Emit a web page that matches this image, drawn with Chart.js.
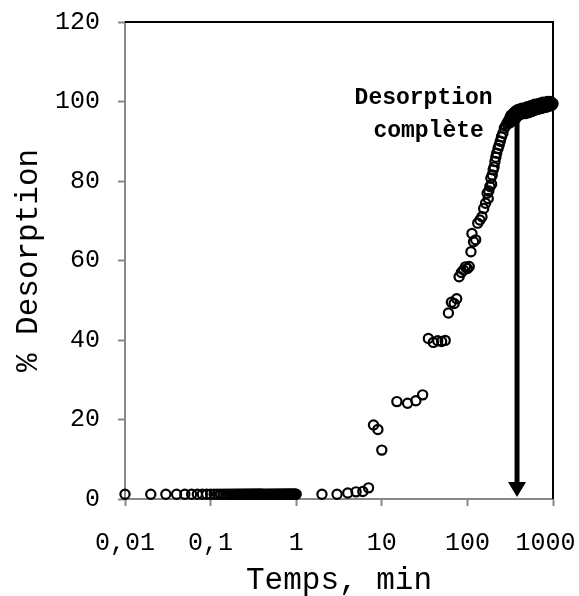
<!DOCTYPE html>
<html>
<head>
<meta charset="utf-8">
<script src="https://cdn.jsdelivr.net/npm/chart.js@4.4.1/dist/chart.umd.min.js"></script>
<style>
  html, body { margin: 0; padding: 0; background: #fff; }
</style>
</head>
<body>
<canvas id="desorptionChart" width="579" height="596"></canvas>
<script>
// Temps (min) et % desorption
let temps = [
  0.01, 0.02, 0.03, 0.04, 0.05, 0.06, 0.07, 0.08, 0.09, 0.10,
  0.11, 0.12, 0.13, 0.14, 0.15, 0.16, 0.17, 0.18, 0.19, 0.20,
  0.21, 0.22, 0.23, 0.24, 0.25, 0.26, 0.27, 0.28, 0.29, 0.30,
  0.31, 0.32, 0.33, 0.34, 0.35, 0.36, 0.37, 0.38, 0.39, 0.40,
  0.42, 0.44, 0.46, 0.48, 0.50, 0.52, 0.54, 0.56, 0.58, 0.60,
  0.62, 0.64, 0.66, 0.68, 0.70, 0.72, 0.74, 0.76, 0.78, 0.80,
  0.82, 0.84, 0.86, 0.88, 0.90, 0.92, 0.94, 0.96, 0.98, 1.00,
  2, 3, 4, 5, 6, 7, 8, 9, 10,
  15, 20, 25, 30,
  35, 40, 45, 50, 55,
  60, 65, 70, 75,
  80, 85, 90, 95, 100, 105,
  110, 113, 118, 125, 132, 140, 148, 155, 163, 170,
  175, 178, 183, 188, 192, 195, 200, 205, 210, 215, 220, 228, 235, 242,
  250, 260, 270, 280, 290, 300, 305, 310,
  315, 320, 325, 330, 340, 345, 350, 360, 365, 370,
  380, 385, 390, 400, 410, 420, 430, 440, 450, 460,
  470, 480, 490, 500, 510, 520, 530, 540, 560, 570,
  580, 600, 610, 620, 640, 650, 670, 680, 700, 720,
  730, 750, 760, 780, 800, 820, 830, 850, 860, 880,
  900, 920, 930, 950, 960, 980, 1000
];
let desorption = [
  1.2, 1.2, 1.2, 1.2, 1.2, 1.2, 1.2, 1.2, 1.2, 1.2,
  1.2, 1.2, 1.2, 1.2, 1.2, 1.2, 1.2, 1.2, 1.2, 1.2,
  1.2, 1.2, 1.2, 1.2, 1.2, 1.2, 1.2, 1.2, 1.2, 1.2,
  1.2, 1.2, 1.2, 1.2, 1.2, 1.2, 1.2, 1.2, 1.2, 1.2,
  1.2, 1.2, 1.2, 1.2, 1.2, 1.2, 1.2, 1.2, 1.2, 1.2,
  1.2, 1.2, 1.2, 1.2, 1.2, 1.2, 1.2, 1.2, 1.2, 1.2,
  1.2, 1.2, 1.2, 1.2, 1.2, 1.2, 1.2, 1.2, 1.2, 1.2,
  1.2, 1.2, 1.5, 1.8, 1.9, 2.8, 18.6, 17.5, 12.3,
  24.5, 24.1, 24.7, 26.2,
  40.4, 39.4, 39.8, 39.6, 39.9,
  46.8, 49.5, 49.2, 50.4,
  55.9, 57.0, 57.6, 58.4, 58.0, 58.5,
  62.2, 66.8, 64.7, 65.2, 69.4, 70.2, 71.0, 73.1, 74.4, 76.9,
  75.6, 77.5, 78.6, 80.7, 79.2, 81.5, 82.8, 83.5, 84.9, 86.0, 87.0, 88.2, 89.0, 90.0,
  91.1, 92.0, 93.3, 93.8, 94.5, 95.0, 95.3, 94.6,
  96.0, 94.8, 96.6, 95.2, 96.5, 95.5, 97.2, 96.0, 97.6, 95.8,
  97.5, 96.3, 98.0, 96.6, 97.8, 96.8, 98.3, 96.9, 98.0, 97.1,
  98.2, 97.0, 98.6, 97.2, 98.5, 97.2, 98.8, 97.4, 99.0, 97.5,
  99.0, 97.8, 99.3, 97.9, 99.2, 98.0, 99.4, 98.1, 99.6, 98.2,
  99.5, 98.4, 99.8, 98.5, 99.6, 98.6, 99.8, 98.6, 100.0, 98.8,
  99.7, 98.9, 100.0, 99.0, 99.8, 99.1, 99.5
];

let xTicks = [0.01, 0.1, 1, 10, 100, 1000];
let xTickLabels = ["0,01", "0,1", "1", "10", "100", "1000 "];

// fleche "Desorption complete"
let flecheTemps = 380;
let flecheHaut = 95;
let flecheBas = 0;
let noteLignes = ["Desorption", "complète"];
let noteTemps = [30.8, 35.2];
let noteValeurs = [100.9, 92.6];

const police = "'Liberation Mono', 'DejaVu Sans Mono', monospace";
Chart.defaults.color = "#000";

const cadre = {
  id: "cadre",
  afterDraw(chart) {
    const { ctx, chartArea } = chart;
    ctx.save();
    ctx.strokeStyle = "#000";
    ctx.lineWidth = 2;
    ctx.beginPath();
    ctx.moveTo(chartArea.left, chartArea.top);
    ctx.lineTo(chartArea.right, chartArea.top);
    ctx.lineTo(chartArea.right, chartArea.bottom);
    ctx.stroke();
    ctx.restore();
  },
};

const fleche = {
  id: "fleche",
  afterDatasetsDraw(chart) {
    const ctx = chart.ctx;
    const x = chart.scales.x.getPixelForValue(flecheTemps);
    const yHaut = chart.scales.y.getPixelForValue(flecheHaut);
    const yBas = chart.scales.y.getPixelForValue(flecheBas) - 2;
    ctx.save();
    ctx.strokeStyle = "#000";
    ctx.fillStyle = "#000";
    ctx.lineWidth = 5;
    ctx.beginPath();
    ctx.moveTo(x, yHaut);
    ctx.lineTo(x, yBas - 12);
    ctx.stroke();
    ctx.beginPath();
    ctx.moveTo(x - 9, yBas - 15);
    ctx.lineTo(x + 9, yBas - 15);
    ctx.lineTo(x, yBas);
    ctx.closePath();
    ctx.fill();

    ctx.font = "bold 23px " + police;
    ctx.textAlign = "center";
    ctx.textBaseline = "middle";
    noteLignes.forEach((ligne, i) => {
      ctx.fillText(
        ligne,
        chart.scales.x.getPixelForValue(noteTemps[i]),
        chart.scales.y.getPixelForValue(noteValeurs[i])
      );
    });
    ctx.restore();
  },
};

const ctx = document.getElementById("desorptionChart").getContext("2d");
const chart = new Chart(ctx, {
  type: "scatter",
  data: {
    datasets: [
      {
        label: "% Desorption",
        data: temps.map((t, i) => ({ x: t, y: desorption[i] })),
        pointStyle: "circle",
        pointRadius: 4.6,
        pointBorderWidth: 2.2,
        borderColor: "#000",
        backgroundColor: "rgba(0,0,0,0)",
        clip: false,
      },
    ],
  },
  options: {
    responsive: false,
    animation: false,
    layout: { padding: { top: 22, right: 26, left: 0, bottom: 0 } },
    plugins: {
      legend: { display: false },
      tooltip: { enabled: false },
    },
    scales: {
      x: {
        type: "logarithmic",
        min: 0.01,
        max: 1000,
        afterBuildTicks: (scale) => {
          scale.ticks = xTicks.map((v) => ({ value: v }));
        },
        afterFit: (scale) => {
          scale.height = 97;
          scale.paddingLeft = 0;
          scale.paddingRight = 0;
        },
        ticks: {
          autoSkip: false,
          maxRotation: 0,
          padding: 22,
          font: { family: police, size: 25 },
          callback: (value) => xTickLabels[xTicks.indexOf(value)],
        },
        grid: {
          drawOnChartArea: false,
          drawTicks: true,
          tickLength: 7,
          tickWidth: 2,
          color: "#888",
        },
        border: { color: "#888", width: 2 },
        title: {
          display: true,
          text: "Temps, min",
          font: { family: police, size: 31, lineHeight: 1 },
          padding: { top: 0, bottom: 0 },
        },
      },
      y: {
        min: 0,
        max: 120,
        afterFit: (scale) => {
          scale.width = 125;
          scale.paddingTop = 0;
          scale.paddingBottom = 0;
        },
        ticks: {
          stepSize: 20,
          padding: 18,
          font: { family: police, size: 25 },
        },
        grid: {
          drawOnChartArea: false,
          drawTicks: true,
          tickLength: 7,
          tickWidth: 2,
          color: "#888",
        },
        border: { color: "#888", width: 2 },
        title: {
          display: true,
          text: "% Desorption",
          font: { family: police, size: 31, lineHeight: 1 },
          padding: { top: 13, bottom: 0 },
        },
      },
    },
  },
  plugins: [cadre, fleche],
});
</script>
</body>
</html>
